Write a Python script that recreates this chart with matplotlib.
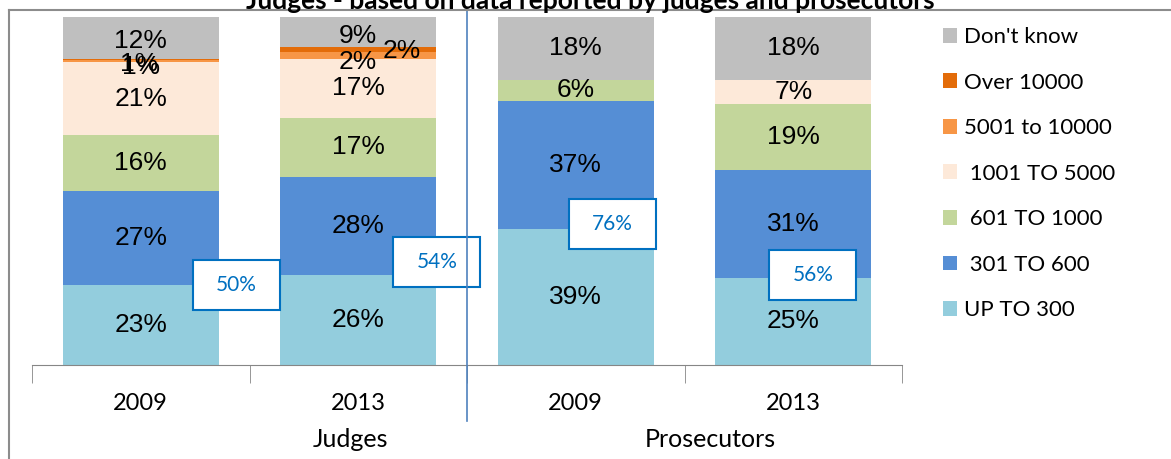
import numpy as np
import matplotlib.pyplot as plt
from matplotlib.patches import Rectangle
from matplotlib.lines import Line2D

# data
years = ['2009', '2013', '2009', '2013']
groups = ['Judges', 'Prosecutors']
series = ['UP TO 300', ' 301 TO 600', ' 601 TO 1000', ' 1001 TO 5000',
          '5001 to 10000', 'Over 10000', "Don't know"]
up_to_300 = [23, 26, 39, 25]
from_301_600 = [27, 28, 37, 31]
from_601_1000 = [16, 17, 6, 19]
from_1001_5000 = [21, 17, 0, 7]
from_5001_10000 = [0.6, 2, 0, 0]
over_10000 = [0.4, 1.5, 0, 0]
dont_know = [12, 9, 18, 18]
labels_5001 = ['1%', '2%', '', '']
labels_over = ['1%', '2%', '', '']

colors = ['#93CDDD', '#558ED5', '#C3D69B', '#FDE9D9', '#F79646', '#E36C09', '#BFBFBF']

plt.rcParams['font.family'] = ['Lato', 'DejaVu Sans']

fig = plt.figure(figsize=(11.71, 4.59), dpi=100)
ax = fig.add_axes([32 / 1171, 94 / 459, 870 / 1171, 348 / 459])

values = [up_to_300, from_301_600, from_601_1000, from_1001_5000,
          from_5001_10000, over_10000, dont_know]
x = np.arange(len(years))
bottom = np.zeros(len(years))
handles = []
for i, (vals, name, c) in enumerate(zip(values, series, colors)):
    vals = np.array(vals, dtype=float)
    bars = ax.bar(x, vals, 0.716, bottom=bottom, color=c, label=name)
    handles.append(bars)
    for j, v in enumerate(vals):
        if v <= 0:
            continue
        if name == '5001 to 10000':
            txt = labels_5001[j]
        elif name == 'Over 10000':
            txt = labels_over[j]
        else:
            txt = '%d%%' % round(v)
        dx, dy = 0, 0
        if name == "Don't know" and j == 0:
            dy = -1.0
        if name == "Don't know" and j == 1:
            dy = -1.5
        if name == '5001 to 10000' and j == 0:
            dy = -1.6
        if name == 'Over 10000' and j == 0:
            dx, dy = -0.01, -1.2
        if name == 'Over 10000' and j == 1:
            dx, dy = 0.2, -0.6
        if name == '5001 to 10000' and j == 1:
            dy = -1.8
        ax.text(x[j] + dx, bottom[j] + v / 2 + dy, txt, ha='center', va='center',
                fontsize=19, family=['Liberation Sans'], color='black')
    bottom += vals

ax.set_xlim(-0.5, 3.5)
ax.set_ylim(0, 100)
ax.set_yticks([])
for s in ['top', 'right', 'left']:
    ax.spines[s].set_visible(False)
ax.spines['bottom'].set_color('#868686')
ax.set_xticks(x)
ax.set_xticklabels(years, fontsize=17)
ax.tick_params(axis='x', which='major', length=0, pad=20)
ax.set_xticks(np.arange(-0.5, 4, 1), minor=True)
ax.tick_params(axis='x', which='minor', length=13, color='#868686')

# group labels
ax.text(0.962, -21.5, groups[0], ha='center', va='center', fontsize=18,
        transform=ax.transData, clip_on=False)
ax.text(2.617, -21.5, groups[1], ha='center', va='center', fontsize=18,
        transform=ax.transData, clip_on=False)

# callout boxes with cumulative share up to 600
box_pos = [(0.44, 23), (1.362, 29.6), (2.17, 40.5), (3.09, 25.9)]
for (bx, by), a, b in zip(box_pos, up_to_300, from_301_600):
    w, h = 0.4, 14.4
    ax.add_patch(Rectangle((bx - w / 2, by - h / 2), w, h, facecolor='white',
                           edgecolor='#0070C0', linewidth=1.5, zorder=5, clip_on=False))
    ax.text(bx, by, '%d%%' % (a + b), ha='center', va='center', fontsize=15,
            color='#0070C0', zorder=6)

# separator line between judges and prosecutors
fig.add_artist(Line2D([467 / 1171, 467 / 1171], [1 - 10 / 459, 1 - 421 / 459],
                      color='#4F81BD', linewidth=1.2))

# outer frame
fig.add_artist(Line2D([9 / 1171, 1.0], [1 - 10 / 459, 1 - 10 / 459],
                      color='#8C8C8C', linewidth=1.5))
fig.add_artist(Line2D([9 / 1171, 9 / 1171], [1 - 10 / 459, 0],
                      color='#8C8C8C', linewidth=1.5))

# title (cut off at top)
fig.text(590 / 1171, 1 - 1 / 459, 'Judges - based on data reported by judges and prosecutors',
         ha='center', va='center', fontsize=19, fontweight='bold')

fig.legend(handles[::-1], series[::-1], loc='upper left',
           bbox_to_anchor=(923 / 1171, 1 - 7 / 459), frameon=False, fontsize=16,
           handlelength=0.65, handleheight=0.65, handletextpad=0.3, labelspacing=1.15)

fig.savefig('out.png', dpi=100)
